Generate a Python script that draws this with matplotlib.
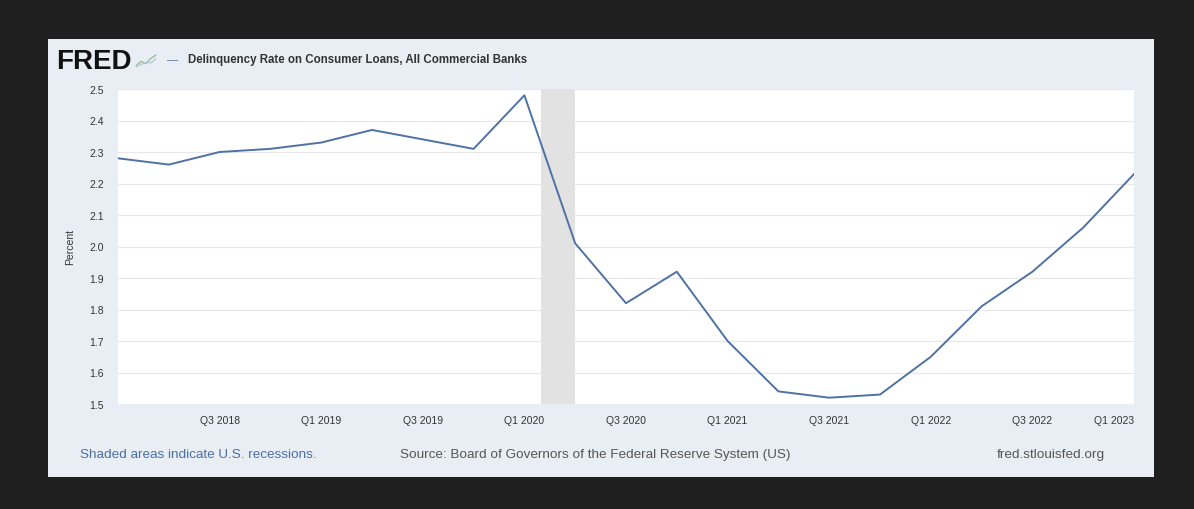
import numpy as np
import matplotlib
matplotlib.use("Agg")
import matplotlib.pyplot as plt
from matplotlib.patches import Rectangle

plt.rcParams["font.family"] = ["Liberation Sans", "DejaVu Sans"]

# Quarterly delinquency rate, Q1 2018 .. Q1 2023
quarters = ["Q1 2018", "Q2 2018", "Q3 2018", "Q4 2018",
            "Q1 2019", "Q2 2019", "Q3 2019", "Q4 2019",
            "Q1 2020", "Q2 2020", "Q3 2020", "Q4 2020",
            "Q1 2021", "Q2 2021", "Q3 2021", "Q4 2021",
            "Q1 2022", "Q2 2022", "Q3 2022", "Q4 2022",
            "Q1 2023"]
rate = [2.28, 2.26, 2.30, 2.31,
        2.33, 2.37, 2.34, 2.31,
        2.48, 2.01, 1.82, 1.92,
        1.70, 1.54, 1.52, 1.53,
        1.65, 1.81, 1.92, 2.06,
        2.23]
# recession (Feb 2020 - Apr 2020) in quarter units from Q1 2018
recession = (8.33, 9.0)
tick_labels = quarters[2::2]
yticks = [1.5, 1.6, 1.7, 1.8, 1.9, 2.0, 2.1, 2.2, 2.3, 2.4, 2.5]

BG = "#1f1f1f"
PANEL = "#e9eef5"
LINE = "#4f72a4"

W, H = 1194, 510
fig = plt.figure(figsize=(W / 100, H / 100), dpi=100, facecolor=BG)

# light FRED panel
fig.patches.append(Rectangle((48 / W, 1 - 478 / H), 1106 / W, 438 / H,
                             transform=fig.transFigure, facecolor=PANEL,
                             edgecolor="none", zorder=-5))

ax = fig.add_axes([118 / W, 1 - 405 / H, 1016 / W, 315 / H])
ax.set_facecolor("white")
x = np.arange(len(rate))
ax.axvspan(*recession, color="#e2e2e2", lw=0, zorder=1)
ax.plot(x, rate, color=LINE, lw=1.4, zorder=3)
ax.set_xlim(0, len(rate) - 1)
ax.set_ylim(1.5, 2.5)
ax.set_yticks(yticks)
ax.set_yticklabels([f"{v:.1f}" for v in yticks])
ax.set_xticks(x[2::2])
ax.set_xticklabels(tick_labels)
ax.xaxis.get_ticklabels()[-1].set_horizontalalignment("right")
ax.grid(axis="y", color="#e8e8e8", lw=0.8, zorder=0)
ax.set_axisbelow(True)
for s in ax.spines.values():
    s.set_visible(False)
ax.tick_params(axis="both", length=0, labelsize=7.5, colors="#333333")
ax.tick_params(axis="y", pad=10)
ax.tick_params(axis="x", pad=8)
ax.set_ylabel("Percent", fontsize=7.5, color="#333333", labelpad=10)

# header
fig.text(56 / W, 1 - 62 / H, "FRED", fontsize=20, fontweight="bold",
         color="#111111", va="center", ha="left")
logo = fig.add_axes([134 / W, 1 - 70 / H, 24 / W, 16 / H])
logo.plot([0, 1, 2, 3, 4], [0.3, 0.8, 0.5, 1.2, 1.6], color="#9bbf8a", lw=1)
logo.plot([0, 1, 2, 3, 4], [0.1, 0.4, 0.7, 0.6, 1.1], color="#b8c9dc", lw=1)
logo.set_xlim(-0.5, 4.5)
logo.set_ylim(-0.2, 1.9)
logo.axis("off")
fig.text(167 / W, 1 - 60 / H, "\u2014", fontsize=8, color=LINE,
         va="center", ha="left")
fig.text(188 / W, 1 - 60 / H, "Delinquency Rate on Consumer Loans, All Commercial Banks",
         fontsize=8.3, fontweight="bold", color="#333333", va="center", ha="left")

# footer
fig.text(80 / W, 1 - 455 / H, "Shaded areas indicate U.S. recessions.",
         fontsize=9.7, color="#4a6fa5", va="center", ha="left")
fig.text(400 / W, 1 - 455 / H,
         "Source: Board of Governors of the Federal Reserve System (US)",
         fontsize=9.7, color="#555555", va="center", ha="left")
fig.text(1105 / W, 1 - 455 / H, "fred.stlouisfed.org",
         fontsize=9.7, color="#555555", va="center", ha="right")

fig.savefig("out.png", dpi=100, facecolor=BG)
